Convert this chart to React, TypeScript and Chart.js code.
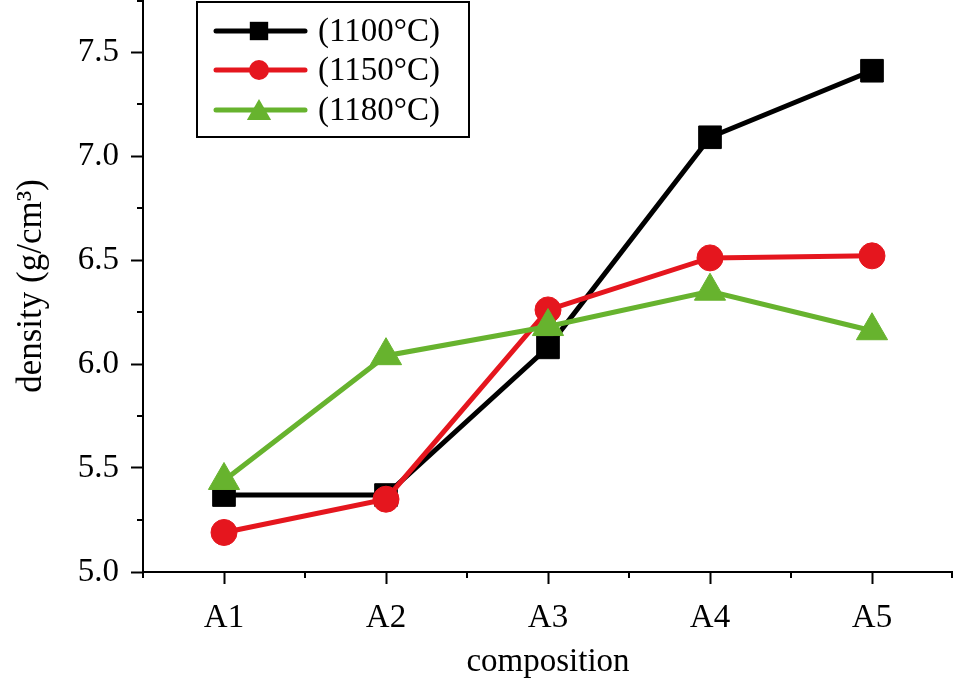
import React, { useEffect, useRef } from "react";
import { Chart, registerables } from "chart.js";

Chart.register(...registerables);

const categories = ["A1", "A2", "A3", "A4", "A5"];
const series1100 = [5.37, 5.37, 6.08, 7.09, 7.41];
const series1150 = [5.19, 5.35, 6.26, 6.51, 6.52];
const series1180 = [5.44, 6.04, 6.18, 6.35, 6.16];
const seriesNames = ["(1100°C)", "(1150°C)", "(1180°C)"];
const yMajorTicks = [5.0, 5.5, 6.0, 6.5, 7.0, 7.5];
const yMinorTicks = [5.25, 5.75, 6.25, 6.75, 7.25, 7.75];
const xMinorTicks = [-0.5, 0.5, 1.5, 2.5, 3.5, 4.5];
const yMin = 5.0;
const yMax = 7.75;

const FONT = "'Liberation Serif', 'Times New Roman', serif";
const BLACK = "#000000";
const RED = "#e5161e";
const GREEN = "#67b32e";

const styles = [
  { color: BLACK, pointStyle: "rect", radius: 16, legendRadius: 13 },
  { color: RED, pointStyle: "circle", radius: 13, legendRadius: 10 },
  { color: GREEN, pointStyle: "triangle", radius: 18, legendRadius: 14 },
];

function drawMarker(ctx: CanvasRenderingContext2D, style: string, r: number, x: number, y: number) {
  ctx.beginPath();
  if (style === "rect") {
    const s = r * Math.SQRT1_2;
    ctx.rect(x - s, y - s, 2 * s, 2 * s);
  } else if (style === "circle") {
    ctx.arc(x, y, r, 0, Math.PI * 2);
  } else {
    const h = r * 1.5;
    const w = r * Math.sqrt(3);
    ctx.moveTo(x, y - r);
    ctx.lineTo(x + w / 2, y - r + h);
    ctx.lineTo(x - w / 2, y - r + h);
    ctx.closePath();
  }
  ctx.fill();
}

const minorTicksPlugin = {
  id: "minorTicks",
  afterDraw(chart: any) {
    const ctx = chart.ctx;
    const x = chart.scales.x;
    const y = chart.scales.y;
    ctx.save();
    ctx.strokeStyle = BLACK;
    ctx.lineWidth = 2;
    ctx.beginPath();
    for (const v of yMinorTicks) {
      const py = Math.max(1, y.getPixelForValue(v));
      ctx.moveTo(y.right - 6, py);
      ctx.lineTo(y.right, py);
    }
    for (const v of xMinorTicks) {
      const px = Math.min(chart.width - 1, x.getPixelForValue(v));
      ctx.moveTo(px, x.top);
      ctx.lineTo(px, x.top + 6);
    }
    ctx.stroke();
    ctx.restore();
  },
};

const legendPlugin = {
  id: "boxLegend",
  afterDraw(chart: any) {
    const ctx = chart.ctx;
    ctx.save();
    ctx.strokeStyle = BLACK;
    ctx.lineWidth = 2;
    ctx.strokeRect(197, 2, 272, 135);
    const rows = [31, 70, 110];
    chart.data.datasets.forEach((ds: any) => {
      const idx = ds.legendIndex;
      const yy = rows[idx];
      const st = styles[idx];
      ctx.strokeStyle = st.color;
      ctx.lineWidth = 5;
      ctx.lineCap = "round";
      ctx.beginPath();
      ctx.moveTo(216, yy);
      ctx.lineTo(305, yy);
      ctx.stroke();
      ctx.fillStyle = st.color;
      const py = st.pointStyle === "triangle" ? yy + 3 : yy;
      drawMarker(ctx, st.pointStyle, st.legendRadius, 259, py);
      ctx.fillStyle = BLACK;
      ctx.font = `33px ${FONT}`;
      ctx.textBaseline = "middle";
      ctx.textAlign = "left";
      ctx.fillText(seriesNames[idx], 318, yy + 1);
    });
    ctx.restore();
  },
};

export default function App() {
  const ref = useRef<HTMLCanvasElement>(null);
  useEffect(() => {
    document.body.style.margin = "0";
    Chart.defaults.color = BLACK;
    const allSeries = [series1100, series1150, series1180];
    const chart = new Chart(ref.current as HTMLCanvasElement, {
      type: "line",
      data: {
        labels: categories,
        datasets: allSeries.map((data, i) => ({
          label: seriesNames[i],
          data,
          legendIndex: i,
          order: 2 - i,
          borderColor: styles[i].color,
          backgroundColor: styles[i].color,
          borderWidth: 5,
          pointStyle: styles[i].pointStyle,
          pointRadius: styles[i].radius,
          pointBorderWidth: 1,
          pointBackgroundColor: styles[i].color,
          pointBorderColor: styles[i].color,
          borderCapStyle: "round",
          tension: 0,
          clip: false,
        })) as any,
      },
      options: {
        animation: false,
        responsive: false,
        devicePixelRatio: 1,
        layout: { padding: 0, autoPadding: false },
        plugins: { legend: { display: false }, tooltip: { enabled: false } },
        scales: {
          x: {
            type: "category",
            offset: true,
            grid: {
              display: true,
              drawOnChartArea: false,
              drawTicks: true,
              tickLength: 12,
              tickWidth: 2,
              tickColor: BLACK,
              offset: false,
            },
            border: { display: true, color: BLACK, width: 2 },
            ticks: { color: BLACK, font: { family: FONT, size: 33 }, padding: 15, maxRotation: 0 },
            title: {
              display: true,
              text: "composition",
              color: BLACK,
              font: { family: FONT, size: 33 },
              padding: { top: 0, bottom: 9 },
            },
            afterFit(scale: any) {
              scale.height = 119;
              scale.paddingLeft = 0;
              scale.paddingRight = 0;
            },
          },
          y: {
            type: "linear",
            min: yMin,
            max: yMax,
            grid: {
              display: true,
              drawOnChartArea: false,
              drawTicks: true,
              tickLength: 12,
              tickWidth: 2,
              tickColor: BLACK,
            },
            border: { display: true, color: BLACK, width: 2 },
            ticks: {
              color: BLACK,
              font: { family: FONT, size: 33 },
              padding: 12,
              callback: (v: any) => Number(v).toFixed(1),
            },
            afterBuildTicks(scale: any) {
              scale.ticks = yMajorTicks.map((v) => ({ value: v }));
            },
            title: {
              display: true,
              text: "density (g/cm³)",
              color: BLACK,
              font: { family: FONT, size: 35 },
              padding: { top: 11, bottom: 0 },
            },
            afterFit(scale: any) {
              scale.width = 143;
              scale.paddingTop = 0;
              scale.paddingBottom = 0;
            },
          },
        },
      } as any,
      plugins: [minorTicksPlugin, legendPlugin],
    });
    return () => chart.destroy();
  }, []);
  return (
    <div style={{ width: 953, height: 691, background: "#fff" }}>
      <canvas ref={ref} width={953} height={691} />
    </div>
  );
}
